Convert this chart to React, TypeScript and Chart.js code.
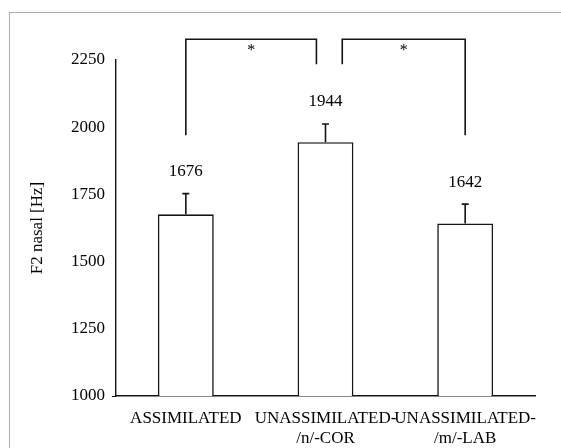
import React, { useEffect, useRef } from "react";
import { Chart, registerables } from "chart.js";

Chart.register(...registerables);

// Mean F2 of the nasal per condition, with the upper error bar
const categories = [["ASSIMILATED"], ["UNASSIMILATED-", "/n/-COR"], ["UNASSIMILATED-", "/m/-LAB"]];
const meanF2 = [1676, 1944, 1642];
const errorF2 = [77, 68, 72];
const yMin = 1000;
const yMax = 2250;
const yStep = 250;

// Significance brackets: horizontal span in category units, leg ends in Hz
const bracketFrom = [0, 1.12];
const bracketTo = [0.935, 2];
const bracketFromEnd = [1970, 2234];
const bracketToEnd = [2234, 1970];
const bracketTopValue = 2327;
const bracketMarkValue = 2286;
const bracketMarks = ["*", "*"];

const INK = "#141414";
const SERIF = "'Liberation Serif', 'Times New Roman', serif";

const annotations = {
  id: "f2Annotations",
  afterDatasetsDraw(chart: any) {
    const { ctx, scales } = chart;
    const x = scales.x;
    const y = scales.y;
    ctx.save();
    ctx.strokeStyle = INK;
    ctx.lineWidth = 1.6;
    ctx.fillStyle = "#000";
    ctx.textAlign = "center";
    ctx.textBaseline = "middle";

    // error bars and value labels
    meanF2.forEach((m, i) => {
      const px = x.getPixelForValue(i);
      const base = y.getPixelForValue(m);
      const top = y.getPixelForValue(m + errorF2[i]);
      ctx.beginPath();
      ctx.moveTo(px, base);
      ctx.lineTo(px, top);
      ctx.moveTo(px - 3.5, top);
      ctx.lineTo(px + 3.5, top);
      ctx.stroke();
      ctx.font = `17px ${SERIF}`;
      ctx.fillText(String(m), px, top - 22);
    });

    // significance brackets
    const yTop = y.getPixelForValue(bracketTopValue);
    bracketFrom.forEach((from, i) => {
      const x1 = x.getPixelForValue(from);
      const x2 = x.getPixelForValue(bracketTo[i]);
      ctx.beginPath();
      ctx.moveTo(x1, y.getPixelForValue(bracketFromEnd[i]));
      ctx.lineTo(x1, yTop);
      ctx.lineTo(x2, yTop);
      ctx.lineTo(x2, y.getPixelForValue(bracketToEnd[i]));
      ctx.stroke();
      ctx.font = `16px ${SERIF}`;
      ctx.fillText(bracketMarks[i], (x1 + x2) / 2, y.getPixelForValue(bracketMarkValue));
    });
    ctx.restore();
  },
};

export default function App() {
  const canvasRef = useRef<HTMLCanvasElement | null>(null);

  useEffect(() => {
    const canvas = canvasRef.current;
    if (!canvas) return;
    const chart = new Chart(canvas, {
      type: "bar",
      data: {
        labels: categories,
        datasets: [
          {
            data: meanF2,
            backgroundColor: "#ffffff",
            borderColor: INK,
            borderWidth: 1.6,
            categoryPercentage: 1,
            barPercentage: 0.4,
          },
        ],
      },
      options: {
        responsive: false,
        animation: false,
        devicePixelRatio: 1,
        layout: { padding: { top: 60, right: 26, left: 0, bottom: 0 } },
        plugins: {
          legend: { display: false },
          tooltip: { enabled: false },
        },
        scales: {
          x: {
            grid: { display: false, drawTicks: false },
            border: { display: true, color: INK, width: 1.4 },
            ticks: {
              color: "#000",
              font: { family: SERIF, size: 17 },
              padding: 12,
              maxRotation: 0,
              autoSkip: false,
            },
            afterFit(scale: any) {
              scale.height = 52;
            },
          },
          y: {
            min: yMin,
            max: yMax,
            grid: {
              drawOnChartArea: false,
              drawTicks: true,
              tickLength: 4,
              color: (c: any) => (c.tick && c.tick.value === yMin ? INK : "rgba(0,0,0,0)"),
            },
            border: { display: true, color: INK, width: 1.4 },
            ticks: {
              stepSize: yStep,
              color: "#000",
              font: { family: SERIF, size: 17 },
              padding: 7,
              callback: (v: any) => String(v),
            },
            title: {
              display: true,
              text: "F2 nasal [Hz]",
              color: "#000",
              font: { family: SERIF, size: 17, weight: "normal" },
              padding: { top: 27, bottom: 0 },
            },
            afterFit(scale: any) {
              scale.width = 116;
            },
          },
        },
      },
      plugins: [annotations],
    });
    return () => chart.destroy();
  }, []);

  return (
    <div
      style={{
        position: "fixed",
        left: 0,
        top: 0,
        width: 561,
        height: 448,
        overflow: "hidden",
        background: "#ffffff",
      }}
    >
      <div
        style={{
          position: "absolute",
          left: 9,
          top: 12,
          width: 700,
          height: 700,
          border: "1.5px solid #ababab",
        }}
      />
      <canvas
        ref={canvasRef}
        width={561}
        height={448}
        style={{ position: "absolute", left: 0, top: 0, width: 561, height: 448 }}
      />
    </div>
  );
}
